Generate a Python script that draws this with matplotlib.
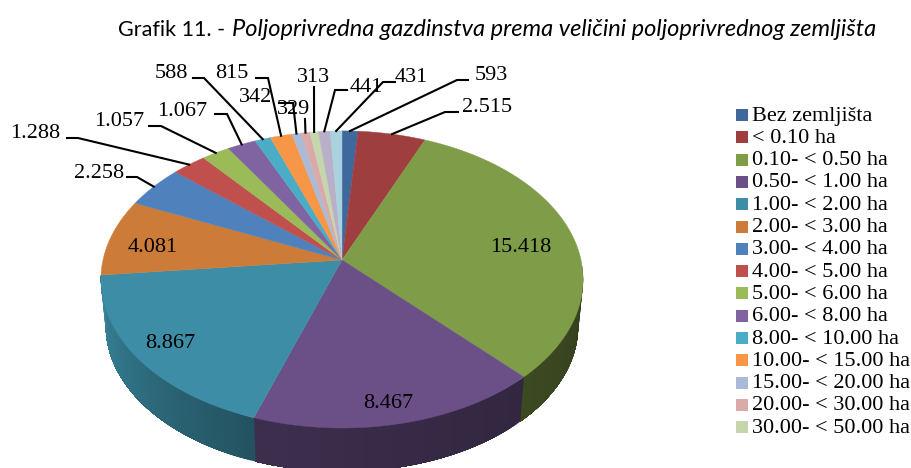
"""Pie of farm holdings by land size, drawn in pixel space with a perspective tilt."""

import matplotlib

matplotlib.use("Agg")
import matplotlib.pyplot as plt
import numpy as np
from matplotlib.colors import to_rgb
from matplotlib.patches import Rectangle

TITLE_PLAIN = "Grafik 11. - "
TITLE_ITALIC = "Poljoprivredna gazdinstva prema veličini poljoprivrednog zemljišta"

values = [593, 2515, 15418, 8467, 8867, 4081, 2258, 1288, 1057, 1067, 588, 815, 342, 329, 313, 441, 431]
colors = [
    "#3f699d", "#9e3e3e", "#7f9c48", "#6a5086", "#3c8da5", "#cc7b38", "#4f81bd", "#c0504d", "#9bbb59",
    "#8064a2", "#4bacc6", "#f79646", "#aabad7", "#d9aaa9", "#c6d6ac", "#baafc9", "#a9d1de",
]
legend_labels = [
    "Bez zemljišta", "< 0.10 ha", "0.10- < 0.50 ha", "0.50- < 1.00 ha", "1.00- < 2.00 ha",
    "2.00- < 3.00 ha", "3.00- < 4.00 ha", "4.00- < 5.00 ha", "5.00- < 6.00 ha", "6.00- < 8.00 ha",
    "8.00- < 10.00 ha", "10.00- < 15.00 ha", "15.00- < 20.00 ha", "20.00- < 30.00 ha", "30.00- < 50.00 ha",
]

# Pie geometry in image pixels (hub, half width, half height, perspective, rim depth)
CX, CY, A, B, K = 342.0, 260.0, 239.0, 146.0, 0.131
RIM_SCALE, RIM_DROP = 0.98, 47.0
SERIF = "Liberation Serif"
LABEL_SIZE = 16

# slice index -> label centre and leader path (elbows) in pixels
outer_labels = {
    0: ((491, 76), [(457, 80), (468, 80)]),
    1: ((487, 107), [(445, 112), (458, 112)]),
    6: ((99, 173), [(137, 177), (127, 177)]),
    7: ((35, 133), [(78, 138), (67, 138)]),
    8: ((119, 121), [(161, 126), (149, 126)]),
    9: ((182, 111), [(227, 114), (215, 114)]),
    10: ((171, 73), [(204, 78), (193, 78)]),
    11: ((232, 73), [(268, 78), (256, 78)]),
    12: ((256, 98), [(293, 103), (279, 103)]),
    13: ((294, 109), [(305, 119)]),
    14: ((314, 78), [(314, 87)]),
    15: ((366, 87), [(335, 90), (347, 90)]),
    16: ((411, 77), [(383, 82), (395, 82)]),
}
inner_labels = {2: (521, 247), 3: (388, 403), 4: (170, 343), 5: (153, 248)}


def project(deg):
    """Clockwise degrees from the top of the pie to top-face pixels."""
    t = np.radians(deg)
    u, v = np.sin(t), np.cos(t)
    w = 1 + K * v
    return CX + A * u / w, CY - B * v / w


def fmt(v):
    return f"{v:,}".replace(",", ".")


fig = plt.figure(figsize=(9.12, 4.68), dpi=100)
ax = fig.add_axes([0, 0, 1, 1])
ax.set_xlim(0, 912)
ax.set_ylim(468, 0)
ax.axis("off")

edges = np.concatenate([[0], np.cumsum(values)]) / sum(values) * 360

# side wall, lit from the left; each strip runs to the slice end so the next one covers it
for i, col in enumerate(colors):
    lo, hi = max(edges[i], 92), min(edges[i + 1], 263.9)
    if lo >= hi:
        continue
    steps = np.arange(lo, hi + 1, 1.0)
    steps[-1] = hi
    base = np.array(to_rgb(col))
    for a0 in steps[:-1]:
        x, y = project(np.linspace(a0, hi, 40))
        xl = CX + RIM_SCALE * (x - CX)
        yl = CY + RIM_DROP + RIM_SCALE * (y - CY)
        shade = np.interp(a0, [92, 198, 262], [0.40, 0.58, 0.95])
        ax.fill(np.r_[x, xl[::-1]], np.r_[y, yl[::-1]], color=base * shade, lw=0)

# top face
for i, col in enumerate(colors):
    x, y = project(np.linspace(edges[i], edges[i + 1], 80))
    ax.fill(np.r_[CX, x], np.r_[CY, y], color=col, lw=0.3)

# labels and leaders
for i, ((tx, ty), path) in outer_labels.items():
    x0, y0 = project((edges[i] + edges[i + 1]) / 2)
    xs, ys = zip((x0, y0), *path)
    ax.plot(xs, ys, color="black", lw=1.5, solid_joinstyle="miter", zorder=3)
    ax.text(tx, ty, fmt(values[i]), family=SERIF, fontsize=LABEL_SIZE, ha="center", va="center", zorder=4)
for i, (tx, ty) in inner_labels.items():
    ax.text(tx, ty, fmt(values[i]), family=SERIF, fontsize=LABEL_SIZE, ha="center", va="center", zorder=4)

# legend
for i, lab in enumerate(legend_labels):
    top = 109 + i * 22.3
    ax.add_patch(Rectangle((736, top), 12, 12, color=colors[i], lw=0))
    ax.text(752, top + 7, lab, family=SERIF, fontsize=LABEL_SIZE, va="center", ha="left")

# title
ax.text(118, 30, TITLE_PLAIN, family="Lato", fontsize=15.5, va="center", ha="left")
ax.text(232, 30, TITLE_ITALIC, family="Lato", style="italic", fontsize=17, va="center", ha="left")

fig.savefig("out.png", dpi=100)
